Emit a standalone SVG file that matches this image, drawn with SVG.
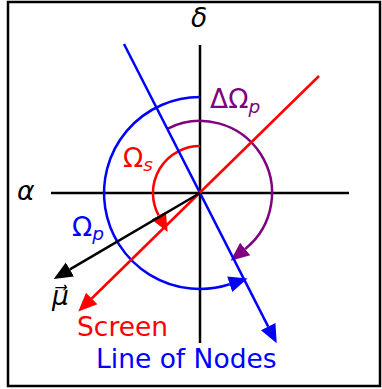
<svg xmlns="http://www.w3.org/2000/svg" width="382" height="389" viewBox="0 0 382 389">
<style>
text{font-family:"DejaVu Sans",sans-serif;font-size:26.5px}
.i{font-style:italic}
.sub{font-size:18.5px;font-style:italic}
line,path.ln{fill:none;stroke-width:2.5px}
</style>
<defs>
<marker id="ab" markerUnits="userSpaceOnUse" markerWidth="20" markerHeight="20" refX="0" refY="0" viewBox="0 -8 16 16" orient="auto"><path d="M0,-6.5 L15,0 L0,6.5 z" fill="#0000ff"/></marker>
<marker id="ar" markerUnits="userSpaceOnUse" markerWidth="20" markerHeight="20" refX="0" refY="0" viewBox="0 -8 16 16" orient="auto"><path d="M0,-6.5 L15,0 L0,6.5 z" fill="#ff0000"/></marker>
<marker id="ak" markerUnits="userSpaceOnUse" markerWidth="20" markerHeight="20" refX="0" refY="0" viewBox="0 -8 16 16" orient="auto"><path d="M0,-6.5 L15,0 L0,6.5 z" fill="#000"/></marker>
<marker id="ap" markerUnits="userSpaceOnUse" markerWidth="20" markerHeight="20" refX="0" refY="0" viewBox="0 -8 16 16" orient="auto"><path d="M0,-6.5 L15,0 L0,6.5 z" fill="#800080"/></marker>
</defs>
<rect x="8" y="2" width="372" height="384" fill="#fff" stroke="#000" stroke-width="2.5"/>
<g id="axes" stroke="#000">
<line x1="51" y1="193" x2="349" y2="193" stroke-width="2.5"/>
<line x1="200" y1="45" x2="200" y2="343" stroke-width="2.5"/>
</g>
<g id="connectors">
<path class="ln" fill="none" stroke-width="2.5" stroke="#0000ff" d="M200,97 A96,96 0 1 0 229.7,284.3" marker-end="url(#ab)"/>
<path class="ln" fill="none" stroke-width="2.5" stroke="#800080" d="M167.3,128.8 A72,72 0 0 1 245.2,249" marker-end="url(#ap)"/>
<path class="ln" fill="none" stroke-width="2.5" stroke="#ff0000" d="M200,146 A47,47 0 0 0 158.7,215.5" marker-end="url(#ar)"/>
<line stroke-width="2.5" stroke="#0000ff" x1="124" y1="44" x2="268.2" y2="326.6" marker-end="url(#ab)"/>
<line stroke-width="2.5" stroke="#ff0000" x1="319" y1="76" x2="91.7" y2="298.5" marker-end="url(#ar)"/>
<line stroke-width="2.5" stroke="#000" x1="200" y1="193" x2="69.9" y2="269.4" marker-end="url(#ak)"/>
</g>
<g id="labels">
<text id="delta" class="i" x="199" y="27" text-anchor="middle">δ</text>
<text id="alpha" class="i" x="17" y="200">α</text>
<text id="dOmegap" x="210" y="108" fill="#800080">ΔΩ<tspan class="sub" dy="5">p</tspan></text>
<text id="Omegas" x="123" y="167" fill="#ff0000">Ω<tspan class="sub" dy="4">s</tspan></text>
<text id="Omegap" x="72" y="236" fill="#0000ff">Ω<tspan class="sub" dy="4">p</tspan></text>
<text id="mu" class="i" x="52" y="305">μ⃗</text>
<text id="screen" x="77" y="336" fill="#ff0000">Screen</text>
<text id="lon" x="96" y="368" fill="#0000ff">Line of Nodes</text>
</g>
</svg>
